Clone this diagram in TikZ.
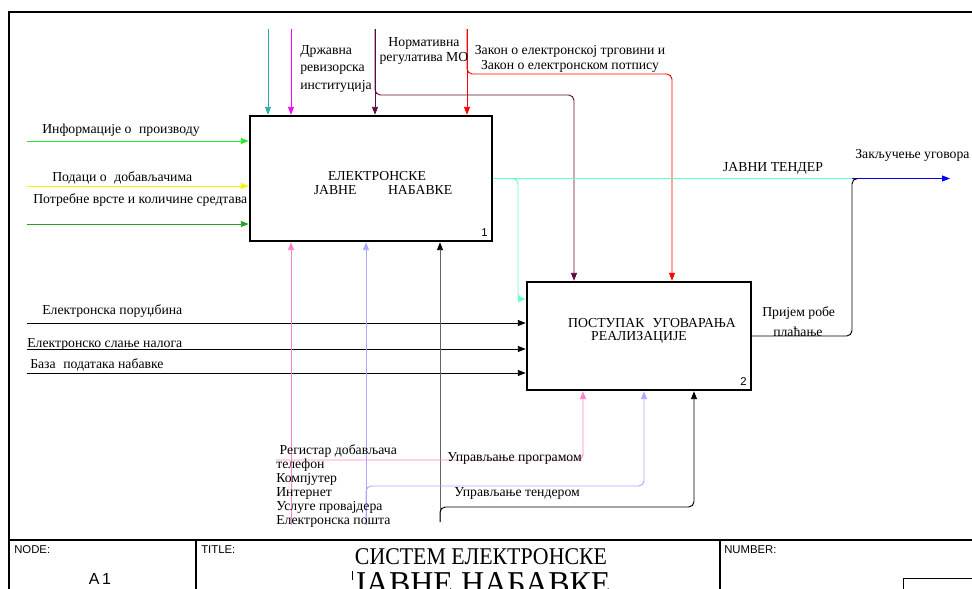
\documentclass[tikz,border=0pt]{standalone}
\usepackage{fontspec}
\setmainfont{Liberation Serif}
\newfontfamily\arialfont{Liberation Sans}
\usetikzlibrary{arrows.meta,positioning}

\definecolor{cTeal}{RGB}{40,175,175}
\definecolor{cMag}{RGB}{255,0,255}
\definecolor{cPurple}{RGB}{95,10,60}
\definecolor{cRed}{RGB}{255,0,0}
\definecolor{cLime}{RGB}{40,235,40}
\definecolor{cYellow}{RGB}{245,245,0}
\definecolor{cGreen}{RGB}{40,160,40}
\definecolor{cAqua}{RGB}{100,255,200}
\definecolor{cBlue}{RGB}{0,0,245}
\definecolor{cPink}{RGB}{255,130,200}
\definecolor{cLav}{RGB}{170,170,255}
\definecolor{cGray}{RGB}{100,100,100}

\begin{document}
\begin{tikzpicture}[x=0.75pt,y=-0.75pt,
  activity/.style={draw,line width=1.8pt,inner sep=0pt},
  pipe/.style={line width=0.7pt,rounded corners=4pt},
  flow/.style={pipe,-{Triangle[length=6pt,width=4.5pt]}},
  lbl/.style={anchor=base west,inner sep=0pt,font=\fontsize{10.3}{12}\selectfont},
  boxtext/.style={anchor=base,inner sep=0pt,font=\fontsize{10.3}{12}\selectfont},
  sans/.style={anchor=base west,inner sep=0pt,font=\arialfont\fontsize{8.5}{10}\selectfont},
  frame/.style={line width=1pt}]
\useasboundingbox (0,0) rectangle (972,589);

% activities
\node [activity,minimum width=181.5pt,minimum height=93.75pt,
  label={[sans,anchor=base east,xshift=-4pt,yshift=4pt]south east:1}] (box1) at (371,178.5) {};
\node [activity,minimum width=168pt,minimum height=81pt,
  label={[sans,anchor=base east,xshift=-4pt,yshift=4pt]south east:2}] (box2) at (639,336) {};
\node [boxtext] (box1a) at (377,180) {ЕЛЕКТРОНСКЕ};
\node [boxtext] (box1b) at (383,194) {ЈАВНЕ\hspace{2.3em}НАБАВКЕ};
\node [boxtext] (box2a) at (652,327) {ПОСТУПАК\hspace{0.6em}УГОВАРАЊА};
\node [boxtext] (box2b) at (639,340) {РЕАЛИЗАЦИЈЕ};

% inputs
\coordinate (inA) at (27,141);
\coordinate (inB) at (27,186);
\coordinate (inC) at (27,224);
\coordinate (inD) at (27,323);
\coordinate (inE) at (27,349);
\coordinate (inF) at (27,373);
\draw [flow,cLime] (inA) -- (inA -| box1.west);
\draw [flow,cYellow] (inB) -- (inB -| box1.west);
\draw [flow,cGreen] (inC) -- (inC -| box1.west);
\draw [flow] (inD) -- (inD -| box2.west);
\draw [flow] (inE) -- (inE -| box2.west);
\draw [flow] (inF) -- (inF -| box2.west);
\node [lbl] (lblA) at (42,133) {Информације о\hspace{0.3em} производу};
\node [lbl] (lblB) at (52,181) {Подаци о\hspace{0.3em} добављачима};
\node [lbl] (lblC) at (33,203) {Потребне врсте и количине средтава};
\node [lbl] (lblD) at (42,314) {Електронска поруџбина};
\node [lbl] (lblE) at (27,347) {Електронско слање налога};
\node [lbl] (lblF) at (30,368) {База\hspace{0.3em} података набавке};

% controls
\coordinate (ctA) at (268,29);
\coordinate (ctB) at (291,29);
\coordinate (ctC) at (375,29);
\coordinate (ctD) at (467,29);
\coordinate (brC) at (375,95);
\coordinate (brD) at (467,74);
\draw [flow,cTeal] (ctA) -- (ctA |- box1.north);
\draw [flow,cMag] (ctB) -- (ctB |- box1.north);
\draw [flow,cPurple] (ctC) -- (ctC |- box1.north);
\draw [flow,cRed] (ctD) -- (ctD |- box1.north);
\draw [flow,cPurple] (ctC) -- (brC) -- (574,95) -- (574,95 |- box2.north);
\draw [flow,cRed] (ctD) -- (brD) -- (672,74) -- (672,74 |- box2.north);
\node [lbl,align=left] (lblG) at (300,89) {Државна\\[1pt]ревизорска\\[1pt]институција};
\node [lbl,anchor=base,align=center] (lblH) at (424,61) {Нормативна\\[-0.8pt]регулатива МО};
\node [lbl,anchor=base,align=center] (lblI) at (570,69) {Закон о електронској трговини и\\[-0.8pt]Закон о електронском потпису};

% outputs
\coordinate (jn) at (852,178.5);
\coordinate (outEnd) at (950,178.5);
\draw [pipe,cAqua] (box1.east) -- (jn);
\draw [flow,cAqua] (box1.east) -- (518,178.5) -- (518,299) -- (box2.west |- 0,299);
\draw [flow,cBlue] (jn) -- (outEnd);
\draw [pipe] (box2.east) -- (852,336) -- (jn) -- (858,178.5);
\node [lbl,anchor=base] (lblJ) at (773,171) {ЈАВНИ ТЕНДЕР};
\node [lbl] (lblK) at (855,158) {Закључење уговора};
\node [lbl] (lblL) at (762,316) {Пријем робе};
\node [lbl] (lblM) at (773,336) {плаћање};

% mechanisms
\coordinate (mA) at (291,525);
\coordinate (mB) at (366,525);
\coordinate (mC) at (440,522);
\coordinate (pkA) at (276,460);
\draw [flow,cPink] (mA) -- (mA |- box1.south);
\draw [flow,cLav] (mB) -- (mB |- box1.south);
\draw [pipe,cGray,-{Triangle[length=6pt,width=4.5pt,color=black]}] (mC) -- (mC |- box1.south);
\draw [flow,cPink] (pkA) -- (583,460) -- (583,460 |- box2.south);
\draw [flow,cLav] (mB) -- (366,486) -- (644,486) -- (644,486 |- box2.south);
\draw [flow] (mC) -- (440,507) -- (694,507) -- (694,507 |- box2.south);
\node [lbl,align=left] (lblN) at (276,524) {\hspace{0.25em}Регистар добављача\\[-1.5pt]телефон\\[-1.5pt]Компјутер\\[-1.5pt]Интернет\\[-1.5pt]Услуге провајдера\\[-1.5pt]Електронска пошта};
\node [lbl] (lblO) at (447,461) {Управљање програмом};
\node [lbl] (lblP) at (454,496) {Управљање тендером};

% frame
\draw [frame] (9,589) -- (9,12) -- (972,12);
\draw [frame] (9,540) -- (972,540);
\draw [frame] (196,540) -- (196,589);
\draw [frame] (720,540) -- (720,589);
\draw [line width=0.6pt] (903,589) -- (903,578) -- (972,578);
\node [sans] (node) at (14,553) {NODE:};
\node [sans] (title) at (201,553) {TITLE:};
\node [sans] (number) at (724,553) {NUMBER:};
\node [sans,anchor=base,font=\arialfont\fontsize{12}{14}\selectfont] (nodeno) at (100,584) {A\kern2pt1};
\node [anchor=base,inner sep=0pt,font=\fontsize{18}{20}\selectfont] (titleA) at (481,564) {\scalebox{0.91}[1]{СИСТЕМ ЕЛЕКТРОНСКЕ}};
\node [anchor=base,inner sep=0pt,font=\fontsize{25}{27}\selectfont] (titleB) at (482,594) {\scalebox{0.96}[1]{ЈАВНЕ НАБАВКЕ}};
\draw [line width=0.5pt] (352,571) -- (352,580);
\end{tikzpicture}
\end{document}
